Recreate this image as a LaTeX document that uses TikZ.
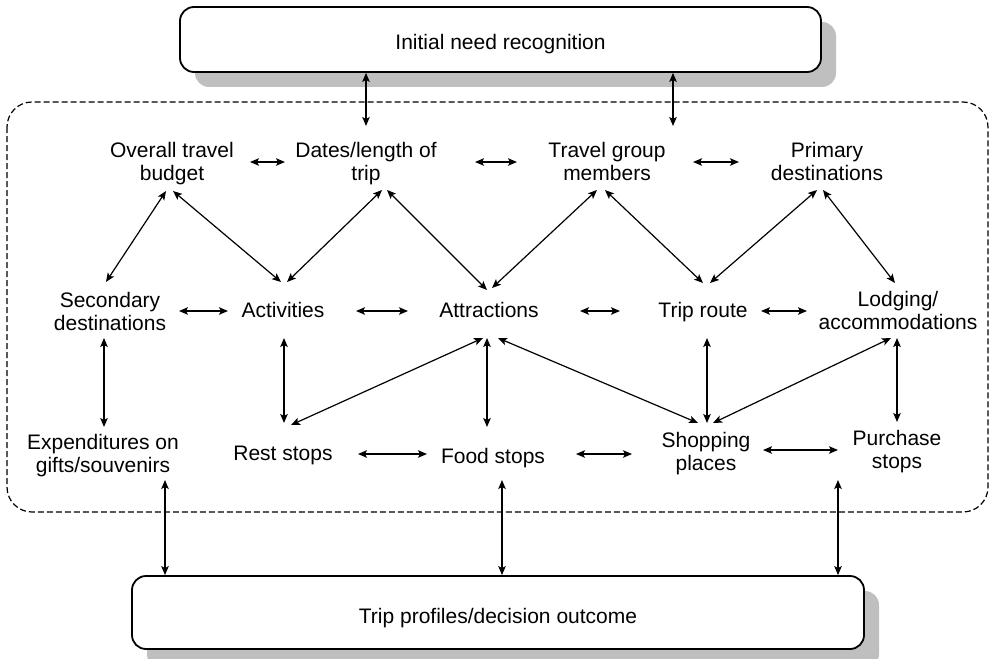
\documentclass[tikz,border=0pt]{standalone}
\usepackage{fontspec}
\setmainfont{Liberation Sans}
\usetikzlibrary{arrows.meta}
\begin{document}
\begin{tikzpicture}[x=1pt,y=-1pt,
  lbl/.style={align=center,font=\fontsize{21}{23}\selectfont,inner sep=0pt},
  panel/.style={draw,line width=1.8pt,rounded corners=14pt,fill=white,
    font=\fontsize{21}{23}\selectfont,text height=21pt,text depth=0pt},
  shade/.style={fill=black!25,rounded corners=14pt},
  dbl/.style={{Stealth[length=9pt,width=7.5pt,inset=2pt]}-{Stealth[length=9pt,width=7.5pt,inset=2pt]},line width=1.2pt},
]
\useasboundingbox (0,0) rectangle (992,658);

% drop shadows of the two outer boxes
\fill[shade] (195,22) rectangle (836,87);
\fill[shade] (147,591) rectangle (879,668);

% dashed frame around the planning elements
\draw[line width=1.2pt,dash pattern=on 6pt off 3pt,rounded corners=25pt]
  (7,102) rectangle (988,512);

% outer boxes
\node[panel,minimum width=641pt,minimum height=65pt] (top) at (500.5,39.5)
  {Initial need recognition};
\node[panel,minimum width=732pt,minimum height=73pt] (bot) at (498,612.5)
  {Trip profiles/decision outcome};

% first row
\node[lbl] (bud) at (172,164) {Overall travel\\budget};
\node[lbl] (dat) at (366,164) {Dates/length of\\trip};
\node[lbl] (grp) at (607,161) {Travel group\\members};
\node[lbl] (pri) at (827,161) {Primary\\destinations};

% second row
\node[lbl] (sec) at (110,311) {Secondary\\destinations};
\node[lbl] (act) at (283,310) {Activities};
\node[lbl] (att) at (489,310) {Attractions};
\node[lbl] (rte) at (703,312) {Trip route};
\node[lbl] (lod) at (898,310) {Lodging/\\accommodations};

% third row
\node[lbl] (exp) at (103,456) {Expenditures on\\gifts/souvenirs};
\node[lbl] (rst) at (283,455) {Rest stops};
\node[lbl] (fod) at (493,458) {Food stops};
\node[lbl] (shp) at (706,454) {Shopping\\places};
\node[lbl] (pur) at (897,452) {Purchase\\stops};

% links from the initial need
\draw[dbl] (top.south -| dat.center) -- ([shift={(0,-38)}]dat.center);
\draw[dbl] ([shift={(66,-35)}]grp.center) coordinate (g1) -- (g1 |- top.south);

% first row links
\draw[dbl] ([shift={(78,-2)}]bud.center) -- ([shift={(-81,-2)}]dat.center);
\draw[dbl] ([shift={(109,-2)}]dat.center) -- ([shift={(-90,1)}]grp.center);
\draw[dbl] ([shift={(86,1)}]grp.center) -- ([shift={(-88,1)}]pri.center);

% first row to second row
\draw[dbl] ([shift={(-6,27)}]bud.center) -- ([shift={(-4,-29)}]sec.center);
\draw[dbl] ([shift={(1,27)}]bud.center) -- ([shift={(-2,-28)}]act.center);
\draw[dbl] ([shift={(16,26)}]dat.center) -- ([shift={(4,-28)}]act.center);
\draw[dbl] ([shift={(21,26)}]dat.center) -- ([shift={(-2,-20)}]att.center);
\draw[dbl] ([shift={(-10,29)}]grp.center) -- ([shift={(3,-22)}]att.center);
\draw[dbl] ([shift={(-2,29)}]grp.center) -- ([shift={(0,-29)}]rte.center);
\draw[dbl] ([shift={(-10,29)}]pri.center) -- ([shift={(7,-29)}]rte.center);
\draw[dbl] ([shift={(-4,29)}]pri.center) -- ([shift={(-3,-27)}]lod.center);

% second row links
\draw[dbl] ([shift={(69,0)}]sec.center) -- ([shift={(-55,1)}]act.center);
\draw[dbl] ([shift={(73,1)}]act.center) -- ([shift={(-81,1)}]att.center);
\draw[dbl] ([shift={(91,1)}]att.center) -- ([shift={(-83,-1)}]rte.center);
\draw[dbl] ([shift={(58,-1)}]rte.center) -- ([shift={(-91,1)}]lod.center);

% second row to third row
\draw[dbl] ([shift={(-6,27)}]sec.center) -- ([shift={(1,-29)}]exp.center);
\draw[dbl] ([shift={(1,28)}]act.center) -- ([shift={(1,-32)}]rst.center);
\draw[dbl] ([shift={(-6,28)}]att.center) -- ([shift={(8,-30)}]rst.center);
\draw[dbl] ([shift={(-2,28)}]att.center) -- ([shift={(-6,-31)}]fod.center);
\draw[dbl] ([shift={(9,28)}]att.center) -- ([shift={(-8,-31)}]shp.center);
\draw[dbl] ([shift={(4,26)}]rte.center) -- ([shift={(1,-31)}]shp.center);
\draw[dbl] ([shift={(-7,28)}]lod.center) -- ([shift={(7,-31)}]shp.center);
\draw[dbl] ([shift={(-1,28)}]lod.center) -- ([shift={(0,-30)}]pur.center);

% third row links
\draw[dbl] ([shift={(75,-1)}]rst.center) -- ([shift={(-66,-4)}]fod.center);
\draw[dbl] ([shift={(83,-4)}]fod.center) -- ([shift={(-74,0)}]shp.center);
\draw[dbl] ([shift={(57,-4)}]shp.center) -- ([shift={(-59,-2)}]pur.center);

% links to the decision outcome
\draw[dbl] ([shift={(62,24)}]exp.center) coordinate (e1) -- (e1 |- bot.north);
\draw[dbl] ([shift={(9,22)}]fod.center) coordinate (e2) -- (e2 |- bot.north);
\draw[dbl] ([shift={(-59,28)}]pur.center) coordinate (e3) -- (e3 |- bot.north);
\end{tikzpicture}
\end{document}
